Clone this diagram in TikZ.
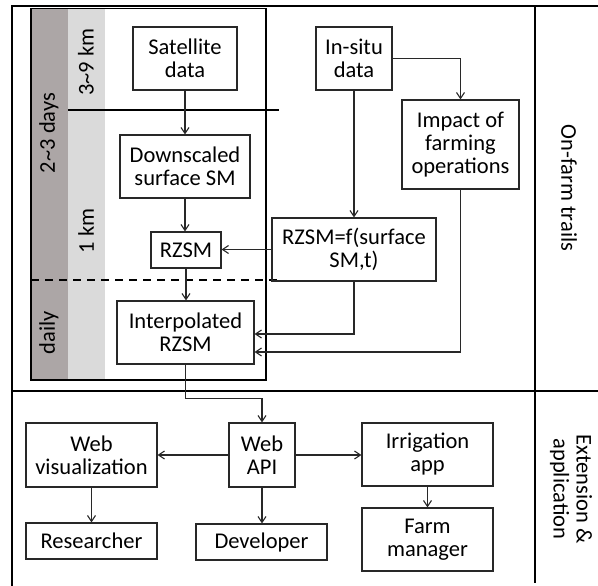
\documentclass[tikz,border=0pt]{standalone}
\usepackage{fontspec}
\setmainfont{Carlito}
\usetikzlibrary{arrows.meta,calc}
\definecolor{coldark}{RGB}{172,166,166}
\definecolor{collight}{RGB}{218,218,218}
\definecolor{ink}{RGB}{40,40,40}
\tikzset{
  box/.style={draw=ink,line width=1.1pt,rectangle,inner sep=0pt,align=center,
    font=\fontsize{22.5}{23}\selectfont},
  conn/.style={draw=ink,line width=1.1pt,-{Straight Barb[length=6pt,width=8pt]}},
  frame/.style={draw=black,line width=2.2pt},
  sidelabel/.style={inner sep=0pt,align=center,font=\fontsize{22.5}{23}\selectfont},
}
\begin{document}
\begin{tikzpicture}[x=1pt,y=-1pt]
\useasboundingbox (0,0) rectangle (598,586);
% resolution bands behind the remote-sensing chain
\fill[coldark] (31,8.5) rectangle (68,380);
\fill[collight] (68,8.5) rectangle (105,380);
\draw[black,line width=1.6pt] (31,8.5) rectangle (266,380);
\draw[black,line width=1.6pt] (68,110) -- (279,110);
\draw[black,line width=2pt,dash pattern=on 8pt off 6pt] (31,280) -- (278,280);

% outer frame and section dividers
\draw[frame] (598,6) -- (12,6) -- (12,586);
\draw[frame] (535,6) -- (535,583);
\draw[frame] (12,391) -- (598,391);

% band labels
\node[sidelabel,rotate=90] (lblday) at (49,133) {2\textasciitilde3 days};
\node[sidelabel,rotate=90] (lblkm) at (86,62) {3\textasciitilde9 km};
\node[sidelabel,rotate=90] (lblone) at (86,231) {1 km};
\node[sidelabel,rotate=90] (lbldaily) at (49,333) {daily};
\node[sidelabel,rotate=-90] (lblfarm) at (569,188) {On-farm trails};
\node[sidelabel,rotate=-90] (lblext) at (571,489) {Extension \&\\application};

% processing chain
\node[box,minimum width=104pt,minimum height=63pt] (sat) at (185,58.5) {Satellite\\data};
\node[box,minimum width=130pt,minimum height=63pt] (down) at (185,166.5) {Downscaled\\surface SM};
\node[box,minimum width=70pt,minimum height=36pt] (rzsm) at (186,250) {RZSM};
\node[box,minimum width=137pt,minimum height=63pt] (interp) at (185.5,332.5) {Interpolated\\RZSM};
\node[box,minimum width=76pt,minimum height=63pt] (insitu) at (354,58.5) {In-situ\\data};
\node[box,minimum width=117pt,minimum height=89pt] (impact) at (460.5,144.5) {Impact of\\farming\\operations};
\node[box,minimum width=164pt,minimum height=63pt] (rzsmf) at (354,249.5) {RZSM=f(surface\\SM,t)};

% applications
\node[box,minimum width=131pt,minimum height=64pt] (webvis) at (91.5,455) {Web\\visualization};
\node[box,minimum width=131pt,minimum height=36pt] (researcher) at (91.5,541) {Researcher};
\node[box,minimum width=66pt,minimum height=64pt] (webapi) at (262,455) {Web\\API};
\node[box,minimum width=131pt,minimum height=36pt] (developer) at (261.5,542) {Developer};
\node[box,minimum width=131pt,minimum height=63pt] (irrig) at (427.5,454.5) {Irrigation\\app};
\node[box,minimum width=131pt,minimum height=63pt] (farm) at (427.5,539.5) {Farm\\manager};

% connectors
\draw[conn] (sat.south) -- (down.north);
\draw[conn] (down.south) -- (down.south |- rzsm.north);
\draw[conn] (rzsm.south) -- (rzsm.south |- interp.north);
\draw[conn] (insitu.east) -| (impact.north);
\draw[conn] (insitu.south) -- (rzsmf.north);
\draw[conn] (rzsmf.west) -- (rzsmf.west -| rzsm.east);
\draw[conn] (rzsmf.south) |- ([yshift=-1.5pt]interp.east);
\draw[conn] (impact.south) |- ([yshift=-19.5pt]interp.east);
\draw[conn] (interp.south) -- ++(0,34) -| (webapi.north);
\draw[conn] (webapi.west) -- (webvis.east);
\draw[conn] (webapi.east) -- (irrig.west |- webapi.east);
\draw[conn] (webapi.south) -- (webapi.south |- developer.north);
\draw[conn] (webvis.south) -- (researcher.north);
\draw[conn] (irrig.south) -- (farm.north);
\end{tikzpicture}
\end{document}
